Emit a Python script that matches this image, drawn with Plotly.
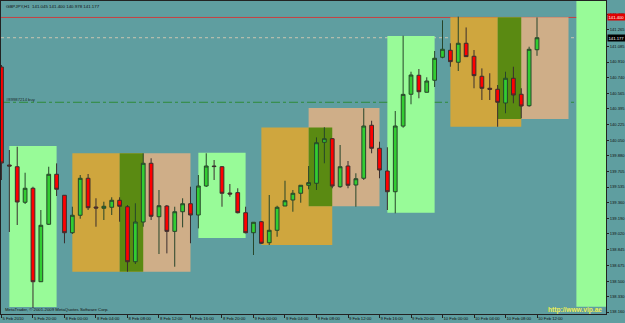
import plotly.graph_objects as go

# ---------------- data ----------------
opens = [140.855, 139.777, 139.758, 139.367, 139.521, 138.493, 139.125, 139.675, 139.444, 139.032,
         139.224, 139.631, 139.315, 139.301, 139.312, 139.389, 139.318, 138.713, 139.150, 139.796,
         139.208, 139.326, 139.047, 139.263, 139.351, 139.227, 139.546, 139.766, 139.758, 139.469,
         139.473, 139.252, 139.032, 139.153, 138.922, 139.059, 139.326, 139.392, 139.466, 139.554,
         139.576, 140.027, 140.066, 139.538, 139.766, 139.557, 139.631, 140.214, 139.961, 139.711,
         139.483, 140.205, 140.555, 140.764, 140.577, 140.709, 140.962, 141.039, 140.907, 141.116,
         140.973, 140.753, 140.621, 140.610, 140.459, 140.731, 140.555, 140.429, 141.045]
highs = [140.877, 139.942, 139.978, 139.692, 139.538, 139.282, 139.758, 139.795, 139.447, 139.318,
         139.667, 139.678, 139.411, 139.373, 139.422, 139.422, 139.337, 139.356, 139.906, 139.851,
         139.502, 139.337, 139.318, 139.411, 139.538, 139.667, 139.906, 139.832, 139.766, 139.568,
         139.521, 139.318, 139.150, 139.161, 139.447, 139.329, 139.604, 139.502, 139.557, 139.766,
         140.081, 140.192, 140.074, 139.997, 139.821, 139.686, 140.401, 140.264, 140.033, 139.972,
         140.371, 141.199, 140.803, 140.833, 140.742, 141.031, 141.369, 141.116, 141.409, 141.290,
         141.042, 140.840, 140.786, 140.657, 140.803, 140.858, 140.621, 141.078, 141.400]
lows = [139.612, 139.040, 139.117, 139.348, 138.204, 138.490, 139.117, 139.436, 138.916, 139.018,
        139.186, 139.282, 139.098, 139.172, 139.227, 139.153, 138.603, 138.688, 139.098, 139.172,
        138.798, 138.805, 138.658, 139.091, 138.916, 139.080, 139.535, 139.612, 139.318, 139.428,
        139.245, 139.025, 138.787, 138.908, 138.897, 138.988, 139.326, 139.263, 139.362, 139.510,
        139.502, 139.796, 139.521, 139.527, 139.521, 139.318, 139.612, 139.906, 139.631, 139.282,
        139.246, 140.187, 140.445, 140.511, 140.575, 140.635, 140.951, 140.858, 140.811, 140.965,
        140.621, 140.492, 140.492, 140.198, 140.346, 140.456, 140.291, 140.418, 140.978]
closes = [139.799, 139.766, 139.370, 139.521, 138.493, 139.114, 139.675, 139.510, 139.032, 139.224,
          139.631, 139.307, 139.304, 139.323, 139.389, 139.323, 138.713, 139.150, 139.796, 139.213,
          139.329, 139.047, 139.263, 139.351, 139.227, 139.546, 139.766, 139.760, 139.466, 139.458,
          139.252, 139.032, 139.147, 138.916, 139.059, 139.312, 139.384, 139.466, 139.554, 139.583,
          140.022, 140.066, 139.546, 139.758, 139.554, 139.626, 140.206, 139.961, 139.722, 139.483,
          140.206, 140.554, 140.767, 140.583, 140.701, 140.951, 141.050, 140.914, 141.116, 140.969,
          140.760, 140.621, 140.610, 140.467, 140.731, 140.547, 140.426, 141.050, 141.177]

x_tick_bars = [0, 4, 8, 12, 16, 20, 24, 28, 32, 36, 40, 44, 48, 52, 56, 60, 64, 68]
x_tick_labels = ["5 Feb 2010", "5 Feb 20:00", "8 Feb 00:00", "8 Feb 04:00", "8 Feb 08:00",
                 "8 Feb 12:00", "8 Feb 16:00", "8 Feb 20:00", "9 Feb 00:00", "9 Feb 04:00",
                 "9 Feb 08:00", "9 Feb 12:00", "9 Feb 16:00", "9 Feb 20:00", "10 Feb 00:00",
                 "10 Feb 04:00", "10 Feb 08:00", "10 Feb 12:00"]
y_tick_labels = ["138.160", "138.330", "138.500", "138.675", "138.845", "139.020", "139.190",
                 "139.360", "139.535", "139.705", "139.880", "140.050", "140.225", "140.395",
                 "140.565", "140.740", "140.910", "141.085", "141.265", "141.435"]

# session rectangles (bar index start/end, price top/bottom)
box_start = [1, 9, 15, 25, 33, 39, 49, 57, 63, 73]
box_end = [7, 18, 24, 31, 42, 48, 55, 66, 72, 80]
box_top = [139.986, 139.906, 139.906, 139.913, 140.190, 140.404, 141.196, 141.402, 141.402, 142.000]
box_bottom = [138.215, 138.603, 138.603, 138.974, 138.897, 139.323, 139.252, 140.198, 140.283, 138.218]
box_kind = ["range", "asia", "europe", "range", "asia", "europe", "range", "asia", "europe", "range"]

red_line_price = 141.400
bid_price = 141.177
buy_price = 140.467

# ---------------- style ----------------
BG = "#5F9EA0"
KIND_COLOR = {"range": "#98FB98", "asia": "#CFA63E", "europe": "#CFAE88"}
OVERLAP_COLOR = "#5A8A12"
FONT = "Liberation Sans"

x_idx = list(range(len(opens)))

fig = go.Figure()
fig.add_trace(go.Candlestick(
    x=x_idx, open=opens, high=highs, low=lows, close=closes,
    increasing=dict(fillcolor="#32CD32", line=dict(color="#27452A", width=1)),
    decreasing=dict(fillcolor="#FF0000", line=dict(color="#3A2E2E", width=1)),
    whiskerwidth=0, hoverinfo="skip", showlegend=False,
))

shapes = []
for s, e, t, b, k in zip(box_start, box_end, box_top, box_bottom, box_kind):
    shapes.append(dict(type="rect", xref="x", yref="y", x0=s, x1=e, y0=b, y1=t,
                       fillcolor=KIND_COLOR[k], line=dict(width=0), layer="below"))
# overlaps of asia/europe boxes (mixed colour in MT4)
for i in range(len(box_kind) - 1):
    if box_kind[i] == "asia" and box_kind[i + 1] == "europe":
        shapes.append(dict(type="rect", xref="x", yref="y",
                           x0=box_start[i + 1], x1=box_end[i],
                           y0=max(box_bottom[i], box_bottom[i + 1]),
                           y1=min(box_top[i], box_top[i + 1]),
                           fillcolor=OVERLAP_COLOR, line=dict(width=0), layer="below"))
shapes.append(dict(type="line", xref="paper", yref="y", x0=0, x1=1, y0=red_line_price, y1=red_line_price,
                   line=dict(color="#C84040", width=1), layer="below"))
shapes.append(dict(type="line", xref="paper", yref="y", x0=0, x1=1, y0=bid_price, y1=bid_price,
                   line=dict(color="#C9C4B0", width=1, dash="dot"), layer="below"))
shapes.append(dict(type="line", xref="paper", yref="y", x0=0, x1=1, y0=buy_price, y1=buy_price,
                   line=dict(color="#2E8B3A", width=1, dash="dashdot"), layer="below"))

annotations = [
    dict(text="GBPJPY,H1  141.045 141.400 140.978 141.177", xref="paper", yref="paper",
         x=0.005, y=0.984, xanchor="left", yanchor="middle", showarrow=False,
         font=dict(family=FONT, size=4.4, color="#111111")),
    dict(text="#89987214 buy", xref="paper", yref="y", x=0.005, y=buy_price, yshift=3,
         xanchor="left", yanchor="middle", showarrow=False,
         font=dict(family=FONT, size=4.2, color="#1A2A2A")),
    dict(text="MetaTrader, © 2001-2009 MetaQuotes Software Corp.", xref="paper", yref="paper",
         x=0.003, y=0.013, xanchor="left", yanchor="middle", showarrow=False,
         font=dict(family=FONT, size=4.3, color="#111111")),
    dict(text="<b>http://www.vip.ae</b>", xref="paper", yref="paper",
         x=0.997, y=0.013, xanchor="right", yanchor="middle", showarrow=False,
         font=dict(family=FONT, size=6.6, color="#EEEE55")),
    dict(text="141.400", xref="paper", yref="y", x=1.0, xshift=1, y=red_line_price,
         xanchor="left", yanchor="middle", showarrow=False, bgcolor="#E00000", borderpad=0.5,
         font=dict(family=FONT, size=4.2, color="#FFFFFF")),
    dict(text="141.177", xref="paper", yref="y", x=1.0, xshift=1, y=bid_price,
         xanchor="left", yanchor="middle", showarrow=False, bgcolor="#000000", borderpad=0.5,
         font=dict(family=FONT, size=4.2, color="#FFFFFF")),
]

fig.update_layout(
    width=625, height=323,
    margin=dict(l=1, r=19, t=1, b=9, pad=0, autoexpand=False),
    paper_bgcolor=BG, plot_bgcolor=BG,
    shapes=shapes, annotations=annotations,
    boxgap=0.32,
    showlegend=False,
    xaxis=dict(range=[-0.06, 76.76], rangeslider=dict(visible=False),
               tickmode="array", tickvals=x_tick_bars, ticktext=x_tick_labels,
               ticklabelposition="outside right", tickangle=0, automargin=False,
               ticks="outside", ticklen=3, tickcolor="#222222",
               tickfont=dict(family=FONT, size=4.2, color="#111111"),
               showgrid=False, zeroline=False, showline=True, linecolor="#222222",
               linewidth=1, mirror=True),
    yaxis=dict(range=[138.138, 141.581], side="right", automargin=False,
               tickmode="array", tickvals=[float(v) for v in y_tick_labels], ticktext=y_tick_labels,
               ticks="outside", ticklen=2, tickcolor="#222222", ticklabelstandoff=0,
               tickfont=dict(family=FONT, size=4.1, color="#111111"),
               showgrid=False, zeroline=False, showline=True, linecolor="#222222",
               linewidth=1, mirror=True),
)

fig.write_html("out.html")
